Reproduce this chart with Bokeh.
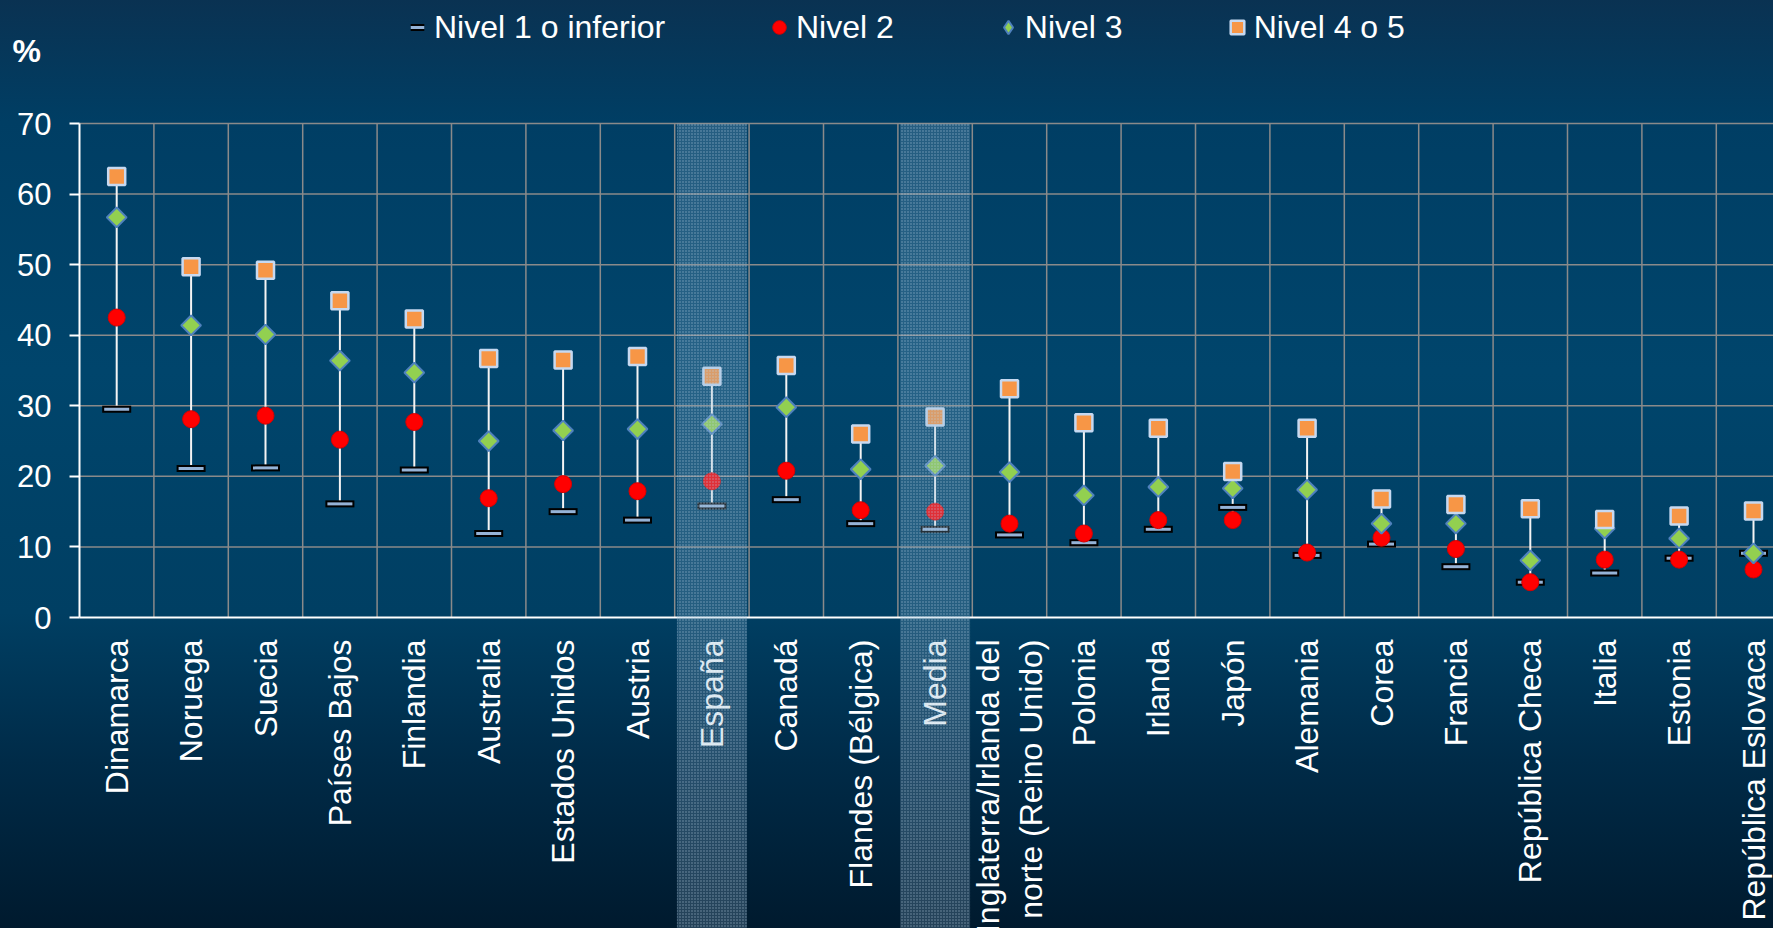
from math import pi
from bokeh.plotting import figure
from bokeh.models import (ColumnDataSource, FixedTicker, Legend, LegendItem, Label,
                          BoxAnnotation, Range1d, LinearAxis)
from bokeh.embed import file_html
from bokeh.resources import INLINE

countries = ["Dinamarca", "Noruega", "Suecia", "Países Bajos", "Finlandia", "Australia",
             "Estados Unidos", "Austria", "España", "Canadá", "Flandes (Bélgica)", "Media",
             "Inglaterra/Irlanda del\nnorte (Reino Unido)", "Polonia", "Irlanda", "Japón",
             "Alemania", "Corea", "Francia", "República Checa", "Italia", "Estonia",
             "República Eslovaca"]
nivel1 = [29.5, 21.1, 21.2, 16.1, 20.9, 11.9, 15.0, 13.8, 15.8, 16.7, 13.3, 12.5, 11.7,
          10.6, 12.5, 15.6, 8.8, 10.4, 7.2, 5.0, 6.3, 8.4, 9.1]
nivel2 = [42.5, 28.1, 28.6, 25.2, 27.7, 16.9, 18.9, 17.9, 19.3, 20.8, 15.2, 15.0, 13.3,
          11.9, 13.8, 13.8, 9.2, 11.3, 9.7, 5.0, 8.2, 8.2, 6.8]
nivel3 = [56.7, 41.4, 40.1, 36.4, 34.7, 25.0, 26.5, 26.7, 27.4, 29.8, 21.0, 21.5, 20.6,
          17.3, 18.5, 18.3, 18.1, 13.3, 13.3, 8.1, 12.6, 11.2, 9.1]
nivel45 = [62.5, 49.7, 49.2, 44.9, 42.3, 36.7, 36.5, 37.0, 34.2, 35.7, 26.0, 28.4, 32.4,
           27.6, 26.8, 20.7, 26.8, 16.8, 16.0, 15.4, 13.9, 14.4, 15.1]
highlighted = ["España", "Media"]
y_ticks = [0, 10, 20, 30, 40, 50, 60, 70]
legend_labels = ["Nivel 1 o inferior", "Nivel 2", "Nivel 3", "Nivel 4 o 5"]

idx = list(range(len(countries)))
lo = [min(a, b, c, d) for a, b, c, d in zip(nivel1, nivel2, nivel3, nivel45)]
hi = [max(a, b, c, d) for a, b, c, d in zip(nivel1, nivel2, nivel3, nivel45)]
src = ColumnDataSource(dict(x=idx, n1=nivel1, n2=nivel2, n3=nivel3, n45=nivel45, lo=lo, hi=hi))

FONT = "Liberation Sans"
W, H = 1773, 928
# plot area: left edge at 79px, y=70 at 123px, y=0 at 617px (figure pixels)
px_per_cat = 74.4
px_per_unit = 494 / 70.0
x0 = -0.5 - 79 / px_per_cat
x1 = -0.5 + (W - 79) / px_per_cat
y1 = 70 + 123 / px_per_unit
y0 = -(H - 617) / px_per_unit

p = figure(width=W, height=H, output_backend="svg", toolbar_location=None,
           x_range=Range1d(x0, x1), y_range=Range1d(y0, y1),
           x_axis_type=None, y_axis_type=None,
           min_border_left=0, min_border_right=0, min_border_top=0, min_border_bottom=0)
p.background_fill_alpha = 0
p.border_fill_alpha = 0
p.outline_line_alpha = 0
p.styles = {"background": "linear-gradient(180deg, #0a3252 0%, #003e64 13%, #00456c 40%, "
                          "#003f63 66%, #002b48 82%, #001a2e 100%)"}

# grid lines (gray) limited to the plot area
g_src_h = ColumnDataSource(dict(y=y_ticks[1:]))
p.segment(x0=-0.5, y0="y", x1=x1 + 1, y1="y", source=g_src_h,
          line_color="#8a8a8a", line_width=1.5)
g_src_v = ColumnDataSource(dict(x=[i + 0.5 for i in idx[:-1]]))
p.segment(x0="x", y0=0, x1="x", y1=70, source=g_src_v,
          line_color="#8a8a8a", line_width=1.5)

# axes
xaxis = LinearAxis(fixed_location=0, bounds=(-0.5, x1 + 1))
xaxis.ticker = FixedTicker(ticks=idx)
xaxis.major_label_overrides = {i: c for i, c in enumerate(countries)}
xaxis.major_label_orientation = pi / 2
xaxis.major_tick_line_alpha = 0
xaxis.minor_tick_line_alpha = 0
xaxis.major_tick_out = 0
xaxis.major_tick_in = 0
xaxis.axis_line_color = "white"
xaxis.axis_line_width = 2
xaxis.major_label_text_font = FONT
xaxis.major_label_text_font_size = "32px"
xaxis.major_label_text_color = "white"
xaxis.major_label_standoff = 22
p.add_layout(xaxis, "below")

yaxis = LinearAxis(fixed_location=-0.5, bounds=(0, 70))
yaxis.ticker = FixedTicker(ticks=y_ticks)
yaxis.major_tick_out = 10
yaxis.major_tick_in = 0
yaxis.minor_tick_line_alpha = 0
yaxis.major_tick_line_color = "white"
yaxis.major_tick_line_width = 2
yaxis.axis_line_color = "white"
yaxis.axis_line_width = 2
yaxis.major_label_text_font = FONT
yaxis.major_label_text_font_size = "31px"
yaxis.major_label_text_color = "white"
yaxis.major_label_standoff = 18
p.add_layout(yaxis, "left")

# data
p.segment(x0="x", y0="lo", x1="x", y1="hi", source=src, line_color="#f4f4f4", line_width=2)
r1a = p.scatter(x="x", y="n1", source=src, marker="dash", size=29,
                line_color="black", line_width=7)
r1b = p.scatter(x="x", y="n1", source=src, marker="dash", size=25,
                line_color="#95b3d7", line_width=3)
r2 = p.scatter(x="x", y="n2", source=src, marker="circle", size=17,
               fill_color="#ff0000", line_color="#d80000", line_width=1)
# diamond marker (used for the legend symbol), covered by the square-diamond on top
r3_leg = p.scatter(x="x", y="n3", source=src, marker="diamond", size=19,
                   fill_color="#92d050", line_color="#4f81bd", line_width=2)
r3 = p.scatter(x="x", y="n3", source=src, marker="square", angle=pi / 4, size=14,
               fill_color="#92d050", line_color="#4f81bd", line_width=2)
r4 = p.scatter(x="x", y="n45", source=src, marker="square", size=17,
               fill_color="#f79646", line_color="#c6d9f1", line_width=2.5)

# highlighted columns
for name in highlighted:
    i = countries.index(name)
    p.add_layout(BoxAnnotation(left=i - 0.47, right=i + 0.47, top=70, bottom=y0 - 5,
                               fill_color="#8ab2d0", fill_alpha=0.27,
                               hatch_pattern="dot", hatch_color="#c0d6e6", hatch_alpha=0.55,
                               hatch_scale=3, line_alpha=0))

# legend
common = dict(orientation="horizontal", glyph_width=34, glyph_height=48, label_standoff=0,
              padding=0, margin=0, border_line_alpha=0, background_fill_alpha=0,
              label_text_color="white", label_text_font_size="32px",
              label_text_font=FONT)
legA = Legend(items=[LegendItem(label=legend_labels[0], renderers=[r1a, r1b])],
              location=(400, 877), **common)
legB = Legend(items=[LegendItem(label=legend_labels[1], renderers=[r2]),
                     LegendItem(label=legend_labels[2], renderers=[r3_leg]),
                     LegendItem(label=legend_labels[3], renderers=[r4])],
              location=(762, 877), spacing=97, **common)
p.add_layout(legA)
p.add_layout(legB)

p.add_layout(Label(x=12, y=878, x_units="screen", y_units="screen", text="%",
                   text_font=FONT, text_font_style="bold", text_font_size="32px",
                   text_color="white", text_baseline="alphabetic"))

open("out.html", "w").write(file_html(p, INLINE))
